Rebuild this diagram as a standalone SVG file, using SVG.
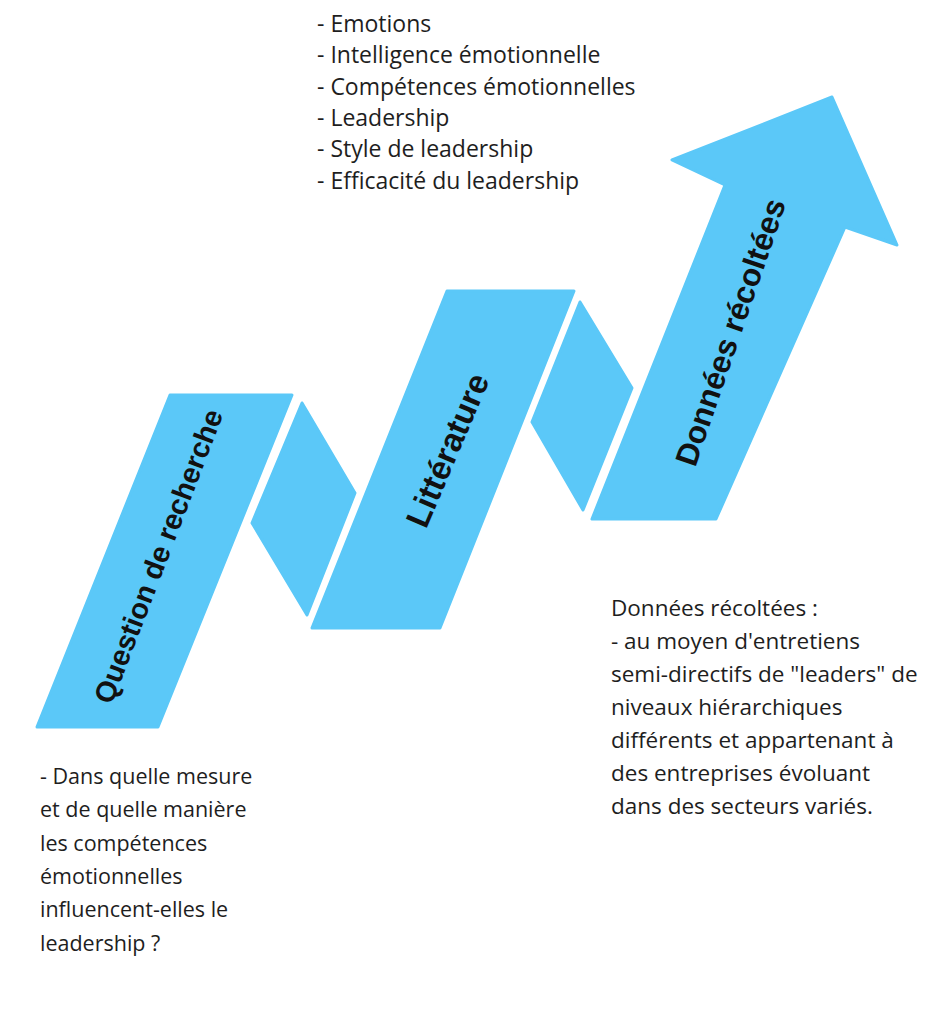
<svg xmlns="http://www.w3.org/2000/svg" width="932" height="1033" viewBox="0 0 932 1033">
<style>
.band{fill:#5BC8F8;stroke:#5BC8F8;stroke-width:3;stroke-linejoin:round}
.lbl{font-family:"Liberation Sans",Arial,sans-serif;font-weight:bold;fill:#111;text-anchor:middle}
.txt{font-family:"Open Sans","Noto Sans",sans-serif;fill:#1e1e1e}
</style>
<rect width="932" height="1033" fill="#ffffff"/>
<g id="connectors">
<polygon id="fold1" class="band" points="302,403 355,493 307,615 252,523"/>
<polygon id="fold2" class="band" points="580,302 632,388 583,510 532,422"/>
</g>
<g id="node-question">
<polygon class="band" points="170,395 292,395 158,727 37,727"/>
<text class="lbl" font-size="28.8" transform="translate(158,556) rotate(-69)" dy="0.36em">Question de recherche</text>
</g>
<g id="node-litterature">
<polygon class="band" points="447,291 574,291 440,628 312,628"/>
<text class="lbl" font-size="33" transform="translate(447,450) rotate(-67)" dy="0.36em">Littérature</text>
</g>
<g id="node-donnees">
<polygon class="band" points="592,519 716,519 845,227 897,245 832,97 672,160 725,185"/>
<text class="lbl" font-size="31.5" transform="translate(730,332) rotate(-71)" dy="0.36em">Données récoltées</text>
</g>
<g id="text-litterature-list" class="txt" font-size="23">
<text x="317" y="32">- Emotions</text>
<text x="317" y="63.3">- Intelligence émotionnelle</text>
<text x="317" y="94.6">- Compétences émotionnelles</text>
<text x="317" y="125.9">- Leadership</text>
<text x="317" y="157.2">- Style de leadership</text>
<text x="317" y="188.5">- Efficacité du leadership</text>
</g>
<g id="text-donnees" class="txt" font-size="22.5">
<text x="611" y="616">Données récoltées :</text>
<text x="611" y="649">- au moyen d'entretiens</text>
<text x="611" y="682">semi-directifs de "leaders" de</text>
<text x="611" y="715">niveaux hiérarchiques</text>
<text x="611" y="748">différents et appartenant à</text>
<text x="611" y="781">des entreprises évoluant</text>
<text x="611" y="814">dans des secteurs variés.</text>
</g>
<g id="text-question" class="txt" font-size="21.5">
<text x="40" y="784">- Dans quelle mesure</text>
<text x="40" y="817.3">et de quelle manière</text>
<text x="40" y="850.6">les compétences</text>
<text x="40" y="883.9">émotionnelles</text>
<text x="40" y="917.2">influencent-elles le</text>
<text x="40" y="950.5">leadership ?</text>
</g>
</svg>
